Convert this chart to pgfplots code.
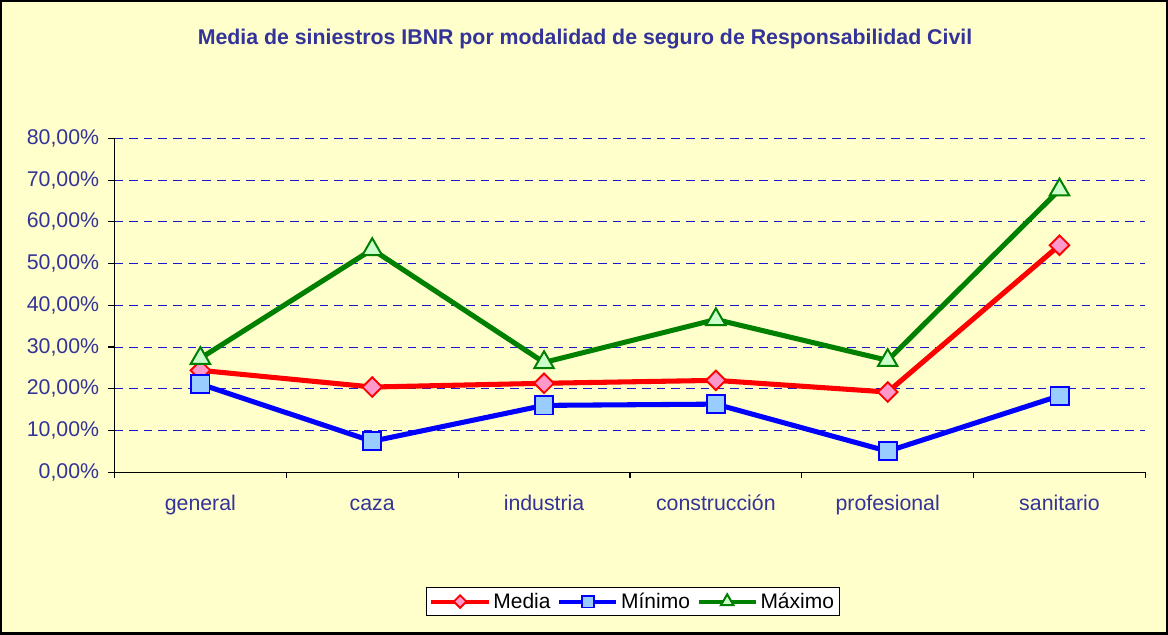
\documentclass[border=0pt]{standalone}
\usepackage{pgfplots}
\pgfplotsset{compat=1.18}
\usepackage{fontspec}
\setmainfont{Liberation Sans}
\definecolor{bgy}{HTML}{FFFFCC}
\definecolor{tblue}{HTML}{333399}
\definecolor{mgreen}{HTML}{008000}
\definecolor{dfill}{HTML}{FF99CC}
\definecolor{sfill}{HTML}{99CCFF}
\definecolor{tfill}{HTML}{CCFFCC}
\begin{document}
\begin{tikzpicture}[x=0.75pt,y=0.75pt]
\fill[bgy] (0,0) rectangle (1168,634);
\node[font=\fontsize{16}{18}\selectfont\bfseries, text=tblue] at (585,596) {Media de siniestros IBNR por modalidad de seguro de Responsabilidad Civil};
\begin{axis}[
  at={(85.5pt,121.5pt)}, anchor=south west,
  scale only axis, width=774pt, height=250.5pt,
  xmin=-0.5, xmax=5.5, ymin=0, ymax=80,
  axis x line*=bottom, axis y line*=left,
  axis line style={black, line width=0.9pt},
  xtick={0,1,2,3,4,5},
  xticklabels={general,caza,industria,construcción,profesional,sanitario},
  minor xtick={-0.5,0.5,1.5,2.5,3.5,4.5,5.5},
  major x tick style={draw=none},
  minor x tick style={black, line width=0.9pt},
  minor tick length=4.5pt,
  tick align=outside,
  ytick={0,10,...,80},
  yticklabels={{0,00\%},{10,00\%},{20,00\%},{30,00\%},{40,00\%},{50,00\%},{60,00\%},{70,00\%},{80,00\%}},
  major y tick style={black, line width=0.9pt},
  major tick length=4.5pt,
  ymajorgrids,
  major grid style={tblue!50!blue, dash pattern=on 6.5pt off 4.5pt, line width=0.6pt},
  ticklabel style={font=\fontsize{16}{18}\selectfont, text=tblue},
  xticklabel style={yshift=-13pt, text height=0.75em, text depth=0.25em},
  yticklabel style={xshift=-3.5pt},
  clip=false,
  legend style={at={(0.503,-0.388)}, anchor=center, draw=black, fill=white, line width=0.7pt,
    font=\fontsize{15.75}{18}\selectfont, legend columns=3, inner sep=2pt,
    /tikz/every even column/.append style={column sep=3pt}},
  legend image code/.code={\draw[mark repeat=2,mark phase=2,#1, line width=3pt, every mark/.append style={scale=0.65}] plot coordinates {(0pt,0pt) (21.5pt,0pt) (43pt,0pt)};},
]
\addplot[red, line width=3.8pt, mark=square*, mark size=5.2pt, mark options={fill=dfill, draw=red, line width=1.4pt, solid, rotate=45}]
  coordinates {(0,24.4) (1,20.4) (2,21.3) (3,22.0) (4,19.2) (5,54.4)};
\addlegendentry{Media}
\addplot[blue, line width=3.8pt, mark=square*, mark size=6.8pt, mark options={fill=sfill, draw=blue, line width=1.4pt, solid}]
  coordinates {(0,21.1) (1,7.4) (2,16.0) (3,16.3) (4,5.0) (5,18.3)};
\addlegendentry{Mínimo}
\addplot[mgreen, line width=3.8pt, mark=triangle*, mark size=8.4pt, mark options={fill=tfill, draw=mgreen, line width=1.5pt, solid}]
  coordinates {(0,27.3) (1,53.4) (2,26.3) (3,36.6) (4,26.8) (5,67.7)};
\addlegendentry{Máximo}
\end{axis}
\draw[black, line width=1.8pt] (0.6,0.6) rectangle (1167.4,633.4);
\end{tikzpicture}
\end{document}
